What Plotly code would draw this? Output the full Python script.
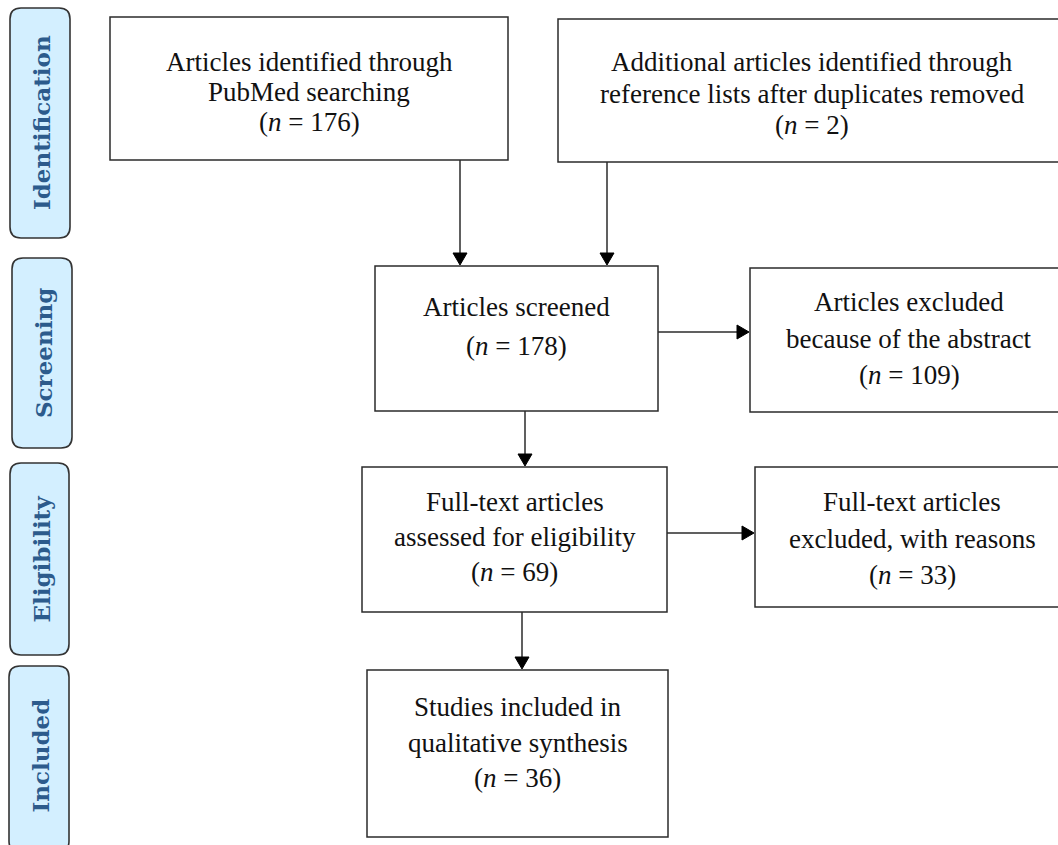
import plotly.graph_objects as go

# ---- content ----
phase_labels = ["Identification", "Screening", "Eligibility", "Included"]

box_lines = [
    ["Articles identified through", "PubMed searching", "(<i>n</i> = 176)"],
    ["Additional articles identified through", "reference lists after duplicates removed", "(<i>n</i> = 2)"],
    ["Articles screened", "(<i>n</i> = 178)"],
    ["Articles excluded", "because of the abstract", "(<i>n</i> = 109)"],
    ["Full-text articles", "assessed for eligibility", "(<i>n</i> = 69)"],
    ["Full-text articles", "excluded, with reasons", "(<i>n</i> = 33)"],
    ["Studies included in", "qualitative synthesis", "(<i>n</i> = 36)"],
]

# ---- layout geometry (pixels) ----
W, H = 1058, 845
phase_geom = [(10, 8, 70, 238), (12, 258, 72, 448), (10, 463, 69, 655), (9, 666, 69, 852)]
box_geom = [
    (110, 17, 508, 160),
    (558, 19, 1066, 162),
    (375, 266, 658, 411),
    (750, 268, 1068, 412),
    (362, 467, 667, 612),
    (755, 467, 1069, 607),
    (367, 670, 668, 837),
]
# centre y of first line and spacing for each box
line_pos = [(62, 30), (62, 31.5), (307, 39), (302, 36.5), (502, 35), (502, 36.5), (707, 35.5)]

# arrows: (x0, y0, x1, y1)
arrows = [
    (460, 160, 460, 266),
    (607, 162, 607, 266),
    (658, 332, 750, 332),
    (525, 411, 525, 467),
    (667, 533, 755, 533),
    (522, 612, 522, 670),
]

LINE = "#2b2b2b"
shapes = []
annotations = []


def rounded_rect(x0, y0, x1, y1, r):
    return (f"M {x0+r},{y0} L {x1-r},{y0} Q {x1},{y0} {x1},{y0+r} "
            f"L {x1},{y1-r} Q {x1},{y1} {x1-r},{y1} L {x0+r},{y1} "
            f"Q {x0},{y1} {x0},{y1-r} L {x0},{y0+r} Q {x0},{y0} {x0+r},{y0} Z")


for label, (x0, y0, x1, y1) in zip(phase_labels, phase_geom):
    shapes.append(dict(type="path", path=rounded_rect(x0, y0, x1, y1, 11),
                       line=dict(color="#333333", width=1.6), fillcolor="#d3efff",
                       xref="x", yref="y", layer="below"))
    annotations.append(dict(x=(x0 + x1) / 2 + 1, y=(y0 + min(y1, H)) / 2, text=label, textangle=-90,
                            showarrow=False, xref="x", yref="y",
                            font=dict(family="DejaVu Serif", size=23, color="#2c5b8c", weight="bold"),
                            xanchor="center", yanchor="middle"))

for lines, (x0, y0, x1, y1), (ly, sp) in zip(box_lines, box_geom, line_pos):
    shapes.append(dict(type="rect", x0=x0, y0=y0, x1=x1, y1=y1,
                       line=dict(color=LINE, width=1.5), fillcolor="white",
                       xref="x", yref="y", layer="below"))
    for i, t in enumerate(lines):
        annotations.append(dict(x=(x0 + x1) / 2, y=ly + i * sp, text=t, showarrow=False,
                                xref="x", yref="y",
                                font=dict(family="Liberation Serif", size=27, color="#111111"),
                                xanchor="center", yanchor="middle"))

AH_L, AH_W = 13, 7
for (x0, y0, x1, y1) in arrows:
    if x0 == x1:  # vertical, pointing down
        shapes.append(dict(type="line", x0=x0, y0=y0, x1=x1, y1=y1 - AH_L,
                           line=dict(color=LINE, width=1.5), xref="x", yref="y"))
        shapes.append(dict(type="path",
                           path=f"M {x1-AH_W},{y1-AH_L} L {x1+AH_W},{y1-AH_L} L {x1},{y1-1} Z",
                           fillcolor="black", line=dict(color="black", width=1), xref="x", yref="y"))
    else:  # horizontal, pointing right
        shapes.append(dict(type="line", x0=x0, y0=y0, x1=x1 - AH_L, y1=y1,
                           line=dict(color=LINE, width=1.5), xref="x", yref="y"))
        shapes.append(dict(type="path",
                           path=f"M {x1-AH_L},{y1-AH_W} L {x1-AH_L},{y1+AH_W} L {x1-1},{y1} Z",
                           fillcolor="black", line=dict(color="black", width=1), xref="x", yref="y"))

fig = go.Figure()
fig.update_layout(
    width=W, height=H,
    margin=dict(l=0, r=0, t=0, b=0),
    paper_bgcolor="white", plot_bgcolor="white",
    xaxis=dict(range=[0, W], visible=False, fixedrange=True),
    yaxis=dict(range=[H, 0], visible=False, fixedrange=True),
    shapes=shapes, annotations=annotations,
    showlegend=False,
)
fig.write_html("out.html", config={"displayModeBar": False})

# remove the default page margin so the figure sits at the window's top-left corner
with open("out.html", encoding="utf-8") as f:
    html = f.read()
html = html.replace("<head>", "<head><style>html,body{margin:0;padding:0;overflow:hidden;}</style>", 1)
with open("out.html", "w", encoding="utf-8") as f:
    f.write(html)
